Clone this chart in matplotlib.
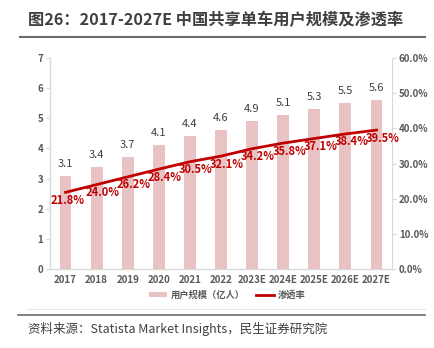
import matplotlib
matplotlib.use("Agg")
import matplotlib.pyplot as plt
from matplotlib.lines import Line2D
from matplotlib.patches import Patch

plt.rcParams['font.family'] = ['Noto Sans CJK SC', 'DejaVu Sans']

years = ["2017", "2018", "2019", "2020", "2021", "2022", "2023E", "2024E", "2025E", "2026E", "2027E"]
users = [3.1, 3.4, 3.7, 4.1, 4.4, 4.6, 4.9, 5.1, 5.3, 5.5, 5.6]
penetration = [21.8, 24.0, 26.2, 28.4, 30.5, 32.1, 34.2, 35.8, 37.1, 38.4, 39.5]
left_ticks = [0, 1, 2, 3, 4, 5, 6, 7]
right_ticks = [0, 10, 20, 30, 40, 50, 60]

W, H = 435, 348
fig = plt.figure(figsize=(W / 100, H / 100), dpi=100)

bar_color = "#E9C2C3"
line_color = "#C00000"
gray_txt = "#595959"
spine_c = "#D9D9D9"

ax = fig.add_axes([50 / W, (H - 269) / H, 342 / W, 211 / H])
x = list(range(len(years)))
ax.bar(x, users, width=0.38, color=bar_color, zorder=2)
ax.set_xlim(-0.5, len(years) - 0.5)
ax.set_ylim(0, 7)
ax.set_yticks(left_ticks)
ax.set_yticklabels([str(t) for t in left_ticks])
ax.set_xticks(x)
ax.set_xticklabels(years)
for s in ["top", "right"]:
    ax.spines[s].set_visible(False)
for s in ["left", "bottom"]:
    ax.spines[s].set_color(spine_c)
    ax.spines[s].set_linewidth(1.0)
ax.tick_params(axis="y", length=3, color=spine_c, labelsize=7, labelcolor=gray_txt, pad=2)
ax.tick_params(axis="x", length=0, labelsize=7, labelcolor=gray_txt, pad=4)
for lab in ax.get_xticklabels() + ax.get_yticklabels():
    lab.set_fontweight("bold")

for xi, v in zip(x, users):
    ax.annotate(f"{v:.1f}", (xi, v), xytext=(0, 12), textcoords="offset pixels",
                ha="center", va="center", fontsize=8, color="#404040", fontweight="medium")

ax2 = ax.twinx()
ax2.set_ylim(0, 60)
ax2.set_yticks(right_ticks)
ax2.set_yticklabels([f"{t:.1f}%" for t in right_ticks])
for s in ["top", "left", "bottom"]:
    ax2.spines[s].set_visible(False)
ax2.spines["right"].set_color(spine_c)
ax2.tick_params(axis="y", length=3, color=spine_c, labelsize=7, labelcolor=gray_txt, pad=2)
for lab in ax2.get_yticklabels():
    lab.set_fontweight("bold")
ax2.plot(x, penetration, color=line_color, linewidth=2, zorder=3)
for i, (xi, v) in enumerate(zip(x, penetration)):
    dx = 2 if i == 0 else 6
    ax2.annotate(f"{v:.1f}%", (xi, v), xytext=(dx, -8), textcoords="offset pixels",
                 ha="center", va="center", fontsize=8, color=line_color, fontweight="bold")

# legend
leg_handles = [Patch(facecolor=bar_color, edgecolor="none"),
               Line2D([0], [0], color=line_color, linewidth=2)]
fig.legend(leg_handles, ["用户规模（亿人）", "渗透率"], loc="center",
           bbox_to_anchor=(227 / W, 1 - 295 / H), ncol=2, frameon=False,
           handlelength=2.0, handleheight=0.5, columnspacing=1.2,
           handletextpad=0.35, labelcolor=gray_txt,
           prop={'family': ['Noto Sans CJK SC', 'DejaVu Sans'], 'weight': 'bold', 'size': 6.7})

# title
fig.text(28 / W, 1 - 20 / H, "图26：2017-2027E 中国共享单车用户规模及渗透率",
         fontsize=11.7, fontweight="bold", color="#404040", ha="left", va="center")
fig.add_artist(Line2D([20 / W, 425 / W], [1 - 37 / H, 1 - 37 / H], color="#6B6B6B", linewidth=1.5))

# bottom lines and source
fig.add_artist(Line2D([27 / W, 425 / W], [1 - 309 / H, 1 - 309 / H], color="#E6E6E6", linewidth=0.8))
fig.add_artist(Line2D([18 / W, 425 / W], [1 - 315 / H, 1 - 315 / H], color="#6B6B6B", linewidth=1.2))
fig.text(28 / W, 1 - 329 / H, "资料来源：Statista Market Insights，民生证券研究院",
         fontsize=9, color="#404040", ha="left", va="center")

fig.savefig("out.png", dpi=100)
